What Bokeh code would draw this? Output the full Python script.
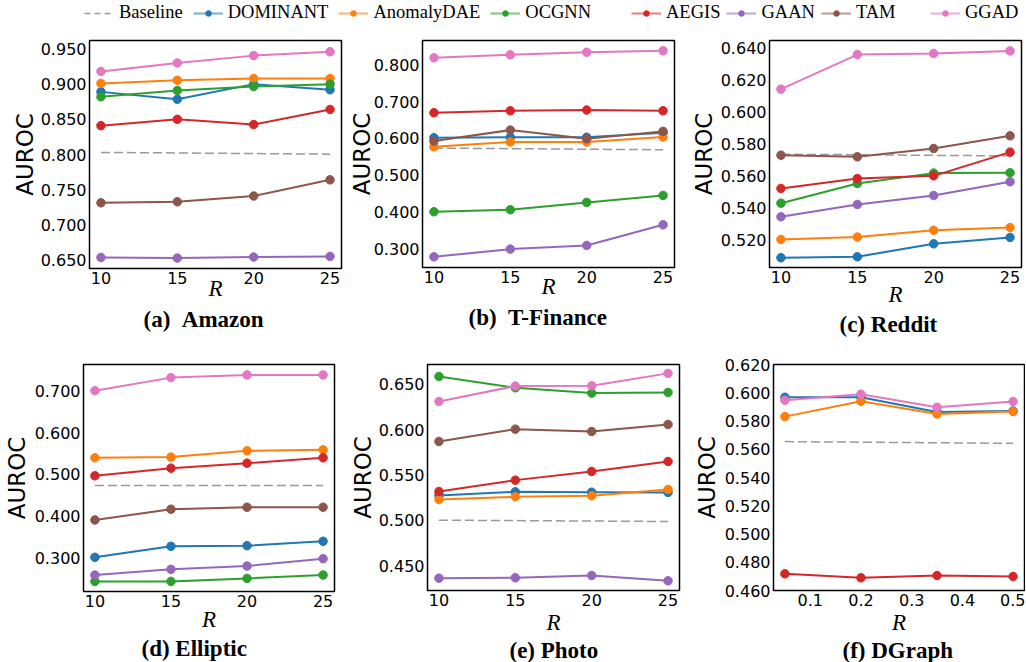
from bokeh.plotting import figure
from bokeh.models import Range1d, FixedTicker, PrintfTickFormatter, Title, Legend, LegendItem
from bokeh.layouts import column, row
from bokeh.embed import file_html
from bokeh.resources import INLINE

# ---------------- data ----------------
R_int = [10, 15, 20, 25]
R_dgraph = [0.05, 0.2, 0.35, 0.5]

methods = ["DOMINANT", "AnomalyDAE", "OCGNN", "AEGIS", "GAAN", "TAM", "GGAD"]
method_colors = ["#1f77b4", "#ff7f0e", "#2ca02c", "#d62728", "#9467bd", "#8c564b", "#e377c2"]

amazon_baseline = [0.803, 0.8022, 0.8013, 0.8005]
amazon = {
    "DOMINANT": [0.889, 0.8785, 0.900, 0.892],
    "AnomalyDAE": [0.901, 0.9055, 0.908, 0.908],
    "OCGNN": [0.882, 0.891, 0.8965, 0.900],
    "AEGIS": [0.841, 0.850, 0.8425, 0.864],
    "GAAN": [0.6537, 0.6528, 0.6542, 0.6552],
    "TAM": [0.7314, 0.7328, 0.741, 0.764],
    "GGAD": [0.918, 0.930, 0.9405, 0.946],
}

tfinance_baseline = [0.5735, 0.572, 0.5705, 0.569]
tfinance = {
    "DOMINANT": [0.6016, 0.603, 0.603, 0.615],
    "AnomalyDAE": [0.577, 0.590, 0.590, 0.6035],
    "OCGNN": [0.4005, 0.406, 0.426, 0.445],
    "AEGIS": [0.6696, 0.675, 0.677, 0.675],
    "GAAN": [0.278, 0.299, 0.309, 0.365],
    "TAM": [0.5926, 0.6225, 0.599, 0.619],
    "GGAD": [0.819, 0.827, 0.834, 0.838],
}

reddit_baseline = [0.5735, 0.5732, 0.5728, 0.5725]
reddit = {
    "DOMINANT": [0.5088, 0.5094, 0.5175, 0.5215],
    "AnomalyDAE": [0.5202, 0.5217, 0.526, 0.5277],
    "OCGNN": [0.5429, 0.5552, 0.5617, 0.5619],
    "AEGIS": [0.5521, 0.5583, 0.560, 0.5748],
    "GAAN": [0.5344, 0.5421, 0.5477, 0.5563],
    "TAM": [0.5729, 0.5719, 0.5771, 0.585],
    "GGAD": [0.6142, 0.6358, 0.6365, 0.6381],
}

elliptic_baseline = [0.4736, 0.4736, 0.4736, 0.4736]
elliptic = {
    "DOMINANT": [0.3016, 0.328, 0.3296, 0.340],
    "AnomalyDAE": [0.540, 0.5416, 0.5568, 0.5592],
    "OCGNN": [0.244, 0.244, 0.2512, 0.2592],
    "AEGIS": [0.4968, 0.5152, 0.5272, 0.540],
    "GAAN": [0.2592, 0.2728, 0.2808, 0.2984],
    "TAM": [0.3912, 0.4168, 0.4216, 0.4216],
    "GGAD": [0.7008, 0.732, 0.7384, 0.7384],
}

photo_baseline = [0.5001, 0.4996, 0.4991, 0.4986]
photo = {
    "DOMINANT": [0.5274, 0.5314, 0.531, 0.5307],
    "AnomalyDAE": [0.5229, 0.5259, 0.527, 0.534],
    "OCGNN": [0.6588, 0.6463, 0.6404, 0.6412],
    "AEGIS": [0.5318, 0.5443, 0.5539, 0.5649],
    "GAAN": [0.436, 0.4364, 0.439, 0.4331],
    "TAM": [0.587, 0.6006, 0.598, 0.6058],
    "GGAD": [0.6312, 0.6482, 0.6485, 0.6622],
}

dgraph_baseline = [0.5654, 0.565, 0.5646, 0.5642]
dgraph = {
    "DOMINANT": [0.5968, 0.5968, 0.5864, 0.5871],
    "AnomalyDAE": [0.5831, 0.594, 0.585, 0.5867],
    "AEGIS": [0.4718, 0.469, 0.4706, 0.4699],
    "GGAD": [0.5947, 0.599, 0.5897, 0.5938],
}

ticks_x_int = [10, 15, 20, 25]
ticks_x_dgraph = [0.1, 0.2, 0.3, 0.4, 0.5]
ticks_amazon = [0.65, 0.70, 0.75, 0.80, 0.85, 0.90, 0.95]
ticks_tfinance = [0.3, 0.4, 0.5, 0.6, 0.7, 0.8]
ticks_reddit = [0.52, 0.54, 0.56, 0.58, 0.60, 0.62, 0.64]
ticks_elliptic = [0.3, 0.4, 0.5, 0.6, 0.7]
ticks_photo = [0.45, 0.50, 0.55, 0.60, 0.65]
ticks_dgraph = [0.46, 0.48, 0.50, 0.52, 0.54, 0.56, 0.58, 0.60, 0.62]

subtitles = ["(a) \u00a0Amazon", "(b) \u00a0T-Finance", "(c) Reddit", "(d) Elliptic", "(e) Photo", "(f) DGraph"]


def make_panel(xs, series, baseline, xr, yr, xticks, yticks, subtitle, geom):
    fw, fh, mbl, mbr, mbt, mbb, xls, yls, toff, tst = geom
    p = figure(frame_width=fw, frame_height=fh, x_range=Range1d(*xr), y_range=Range1d(*yr),
               output_backend="svg", toolbar_location=None,
               min_border_left=mbl, min_border_right=mbr, min_border_top=mbt, min_border_bottom=mbb)
    p.grid.visible = False
    p.outline_line_color = "black"
    p.outline_line_width = 1.5
    p.outline_line_alpha = 1.0

    p.line(xs, baseline, line_color="#7f7f7f", line_dash="9 4", line_width=1.5, line_alpha=0.8)
    for m, c in zip(methods, method_colors):
        if m in series:
            p.line(xs, series[m], line_color=c, line_width=2)
            p.scatter(xs, series[m], size=8.5, fill_color=c, line_color=c)

    p.xaxis.ticker = FixedTicker(ticks=xticks)
    p.yaxis.ticker = FixedTicker(ticks=yticks)
    p.yaxis.formatter = PrintfTickFormatter(format="%.3f")
    for ax in (p.xaxis[0], p.yaxis[0]):
        ax.axis_line_color = None
        ax.major_tick_out = 0
        ax.major_tick_in = 0
        ax.minor_tick_out = 0
        ax.minor_tick_in = 0
        ax.major_label_text_font = "DejaVu Sans"
        ax.major_label_text_font_size = "16px"
        ax.major_label_text_color = "black"
        ax.major_label_standoff = 3
    p.xaxis.axis_label = "R"
    p.xaxis.axis_label_text_font = "Liberation Serif"
    p.xaxis.axis_label_text_font_style = "italic"
    p.xaxis.axis_label_text_font_size = "23px"
    p.xaxis.axis_label_text_color = "black"
    p.xaxis.axis_label_standoff = xls
    p.yaxis.axis_label = "AUROC"
    p.yaxis.axis_label_text_font = "DejaVu Sans"
    p.yaxis.axis_label_text_font_style = "normal"
    p.yaxis.axis_label_text_font_size = "23px"
    p.yaxis.axis_label_text_color = "black"
    p.yaxis.axis_label_standoff = yls
    p.add_layout(Title(text=subtitle, align="left", offset=toff, standoff=tst,
                       text_font="Liberation Serif", text_font_style="bold",
                       text_font_size="23px", text_color="black"), "below")
    return p


# geometry: frame w/h, min borders (l, r, t, b), x-label standoff, y-label standoff, subtitle offset, subtitle standoff
pa = make_panel(R_int, amazon, amazon_baseline, (9.25, 25.75), (0.638, 0.962), ticks_x_int, ticks_amazon,
                subtitles[0], (252, 228, 89, 4, 9, 72, -11, 0, 54, 2))
pb = make_panel(R_int, tfinance, tfinance_baseline, (9.25, 25.75), (0.249, 0.866), ticks_x_int, ticks_tfinance,
                subtitles[1], (252, 227, 77, 4, 10, 72, -12, -4, 46, 2))
pc = make_panel(R_int, reddit, reddit_baseline, (9.25, 25.75), (0.5027, 0.6446), ticks_x_int, ticks_reddit,
                subtitles[2], (252, 227, 91, 3, 10, 72, -4, 1, 70, 1))
pd_ = make_panel(R_int, elliptic, elliptic_baseline, (9.25, 25.75), (0.2198, 0.7634), ticks_x_int, ticks_elliptic,
                 subtitles[3], (251, 227, 82, 7, 25, 71, -3, 2, 58, -2))
pe = make_panel(R_int, photo, photo_baseline, (9.25, 25.75), (0.4224, 0.672), ticks_x_int, ticks_photo,
                subtitles[4], (252, 226, 86, 4, 23, 74, 1, 0, 82, -3))
pf = make_panel(R_dgraph, dgraph, dgraph_baseline, (0.0275, 0.5225), (0.46, 0.62), ticks_x_dgraph, ticks_dgraph,
                subtitles[5], (251, 226, 90, 1, 22, 75, 1, 2, 69, -3))

# ---------------- legend strip ----------------
lg = figure(width=1024, height=30, output_backend="svg", toolbar_location=None,
            x_range=Range1d(-100, -99), y_range=Range1d(-100, -99),
            x_axis_location=None, y_axis_location=None, min_border=0)
lg.grid.visible = False
lg.outline_line_color = None

legend_groups = [[], [], []]
rb = lg.line(R_int, amazon_baseline, line_color="#7f7f7f", line_dash="6 4", line_width=1.5, line_alpha=0.8)
legend_groups[0].append(LegendItem(label="Baseline", renderers=[rb]))
for i, (m, c) in enumerate(zip(methods, method_colors)):
    rl = lg.line(R_int, amazon[m], line_color=c, line_width=2, line_alpha=0.6)
    rs = lg.scatter(R_int, amazon[m], size=6, fill_color=c, line_color=c)
    g = 0 if i < 3 else (1 if i < 6 else 2)
    legend_groups[g].append(LegendItem(label=m, renderers=[rl, rs]))

for items, loc, sp in ((legend_groups[0], (84, 7), 10), (legend_groups[1], (631, 7), 6),
                       (legend_groups[2], (930, 7), 6)):
    leg = Legend(items=items, location=loc, orientation="horizontal", glyph_width=30, glyph_height=14,
                 label_standoff=5, spacing=sp, padding=0, margin=0, border_line_color=None,
                 background_fill_alpha=0, label_text_font="Liberation Serif", label_text_font_size="18.5px",
                 label_text_color="black")
    lg.add_layout(leg)

layout = column(lg, row(pa, pb, pc), row(pd_, pe, pf))
open("out.html", "w").write(file_html(layout, INLINE))
